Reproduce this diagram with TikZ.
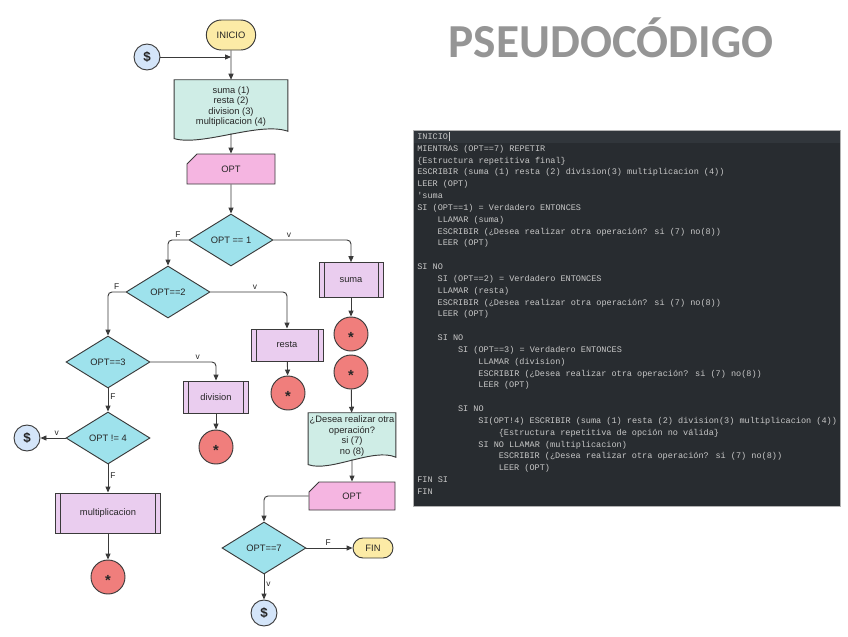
\documentclass[tikz,border=0pt]{standalone}
\usepackage{fontspec}
\setmainfont{Liberation Sans}
\newfontfamily\codefont{Liberation Mono}
\newfontfamily\titlefont{Carlito}
\usetikzlibrary{shapes.geometric,shapes.misc,arrows.meta,calc,backgrounds}

\definecolor{termcol}{HTML}{FCEBA6}
\definecolor{conncol}{HTML}{D4E5F9}
\definecolor{doccol}{HTML}{CFEDE6}
\definecolor{inpcol}{HTML}{F5B5E1}
\definecolor{deccol}{HTML}{9EE2EC}
\definecolor{subcol}{HTML}{EACDEF}
\definecolor{endcol}{HTML}{F07E7C}
\definecolor{linecol}{HTML}{3A3A3A}
\definecolor{panelcol}{HTML}{282C30}
\definecolor{panelhi}{HTML}{31363B}
\definecolor{codecol}{HTML}{C8C8C8}
\definecolor{titlecol}{HTML}{959595}

\newcommand{\stopmk}{\makebox[0pt]{\raisebox{-0.55em}[0pt][0pt]{*}}}
\newcommand{\docshape}[1]{%
  \draw[docbody] (#1.north west) -- (#1.north east) -- ($(#1.south east)+(0,1.5pt)$)
    .. controls ($(#1.south)!0.5!(#1.south east)+(0,9pt)$) and ($(#1.south)!0.5!(#1.south west)+(0,-10pt)$)
    .. ($(#1.south west)+(0,-4pt)$) -- cycle;}

\tikzset{
  every node/.style={font=\fontsize{7}{7.8}\selectfont, text=black!85},
  term/.style={rounded rectangle, draw=linecol, fill=termcol, line width=0.7pt,
    minimum width=39pt, minimum height=22.5pt, inner sep=1pt},
  conn/.style={circle, draw=linecol, fill=conncol, line width=0.7pt,
    minimum size=19.5pt, inner sep=0pt, font=\bfseries\fontsize{10}{10}\selectfont},
  doc/.style={rectangle, align=center, minimum width=85pt, inner sep=1pt},
  docbody/.style={draw=linecol, fill=doccol, line width=0.7pt},
  inp/.style={chamfered rectangle, chamfered rectangle corners=north west,
    chamfered rectangle xsep=4pt, chamfered rectangle ysep=4pt,
    draw=linecol, fill=inpcol, line width=0.7pt,
    minimum width=66pt, minimum height=22.5pt, inner sep=1pt},
  dec/.style={diamond, draw=linecol, fill=deccol, line width=0.7pt,
    minimum width=63pt, minimum height=39pt, inner sep=0pt},
  subr/.style={rectangle, draw=linecol, fill=subcol, line width=0.7pt,
    minimum height=24pt, inner sep=1pt,
    path picture={
      \draw[linecol, line width=0.7pt] ([xshift=3.75pt]path picture bounding box.north west) -- ([xshift=3.75pt]path picture bounding box.south west);
      \draw[linecol, line width=0.7pt] ([xshift=-3.75pt]path picture bounding box.north east) -- ([xshift=-3.75pt]path picture bounding box.south east);}},
  stop/.style={circle, draw=linecol, fill=endcol, line width=0.7pt,
    minimum size=25.5pt, inner sep=0pt, font=\bfseries\fontsize{11}{11}\selectfont},
  flow/.style={draw=linecol, line width=0.7pt, rounded corners=3pt,
    -{Triangle[length=4.5pt,width=3.8pt]}},
  lbl/.style={font=\fontsize{6.3}{7}\selectfont, inner sep=1.5pt},
  code/.style={font=\codefont\fontsize{6.4}{7}\selectfont, text=codecol,
    anchor=base west, inner sep=0pt}
}

\begin{document}
\begin{tikzpicture}[x=0.75pt,y=-0.75pt]
\useasboundingbox (0,0) rectangle (848,636);

% panel with the code
\fill[panelcol] (413,130) rectangle (840,506);
\fill[panelhi] (413,131) rectangle (840,143);
\draw[gray!60, line width=0.5pt] (413,130) rectangle (840,506);

\node[font=\titlefont\bfseries\fontsize{35.5}{36}\selectfont, text=titlecol] (title) at (611,38) {PSEUDOCÓDIGO};

\foreach \row/\ind/\txt in {
    1/0/INICIO,
    2/0/{MIENTRAS (OPT==7) REPETIR},
    3/0/{\{Estructura repetitiva final\}},
    4/0/{ESCRIBIR (suma (1) resta (2) division(3) multiplicacion (4))},
    5/0/{LEER (OPT)},
    6/0/{'suma},
    7/0/{SI (OPT==1) = Verdadero ENTONCES},
    8/4/{LLAMAR (suma)},
    9/4/{ESCRIBIR (¿Desea realizar otra operación? si (7) no(8))},
    10/4/{LEER (OPT)},
    12/0/{SI NO},
    13/4/{SI (OPT==2) = Verdadero ENTONCES},
    14/4/{LLAMAR (resta)},
    15/4/{ESCRIBIR (¿Desea realizar otra operación? si (7) no(8))},
    16/4/{LEER (OPT)},
    18/4/{SI NO},
    19/8/{SI (OPT==3) = Verdadero ENTONCES},
    20/12/{LLAMAR (division)},
    21/12/{ESCRIBIR (¿Desea realizar otra operación? si (7) no(8))},
    22/12/{LEER (OPT)},
    24/8/{SI NO},
    25/12/{SI(OPT!4) ESCRIBIR (suma (1) resta (2) division(3) multiplicacion (4))},
    26/16/{\{Estructura repetitiva de opción no válida\}},
    27/12/{SI NO LLAMAR (multiplicacion)},
    28/16/{ESCRIBIR (¿Desea realizar otra operación? si (7) no(8))},
    29/16/{LEER (OPT)},
    30/0/{FIN SI},
    31/0/FIN}
  \node[code] (l\row) at ({417+\ind*5.1},{139.5+(\row-1)*11.83}) {\txt};
\draw[codecol, line width=0.5pt] ([xshift=0.6pt,yshift=-1pt]l1.base east) -- ([xshift=0.6pt,yshift=5.5pt]l1.base east);

% flowchart
\node[term] (ini) at (231,35) {INICIO};
\node[conn] (s1) at (147,57) {\$};
\node[doc, minimum height=39.75pt] (d1) at (231,106.5) {suma (1)\\resta (2)\\division (3)\\multiplicacion (4)};
\node[inp] (o1) at (231,169) {OPT};
\node[dec] (q1) at (231,240) {OPT == 1};
\node[dec] (q2) at (168,292) {OPT==2};
\node[dec] (q3) at (108,362) {OPT==3};
\node[dec] (q4) at (108,438) {OPT != 4};
\node[conn] (s2) at (27,438) {\$};
\node[subr, minimum width=79pt, minimum height=30pt] (mul) at (108,513) {multiplicacion};
\node[stop] (e4) at (108,577) {\stopmk};
\node[subr, minimum width=49pt] (div) at (216,397) {division};
\node[stop] (e3) at (216,447) {\stopmk};
\node[subr, minimum width=54pt] (res) at (287,345) {resta};
\node[stop] (e2) at (288,393) {\stopmk};
\node[subr, minimum width=48pt, minimum height=26pt] (sum) at (351,280) {suma};
\node[stop] (e1) at (351,334) {\stopmk};
\node[stop] (e5) at (351,372) {\stopmk};
\node[doc, minimum width=64.5pt, minimum height=34.5pt] (d2) at (352,436) {¿Desea realizar otra\\operación?\\si (7)\\no (8)};
\node[inp, minimum width=64.5pt, minimum height=21pt] (o2) at (352,496) {OPT};
\node[dec] (q7) at (264,548) {OPT==7};
\node[term, minimum width=32pt, minimum height=15pt] (fin) at (373,548) {FIN};
\node[conn] (s3) at (264,613) {\$};

\begin{scope}[on background layer]
  \docshape{d1}
  \docshape{d2}
\end{scope}

\coordinate (j1) at (s1 -| ini);
\draw[flow] (s1) -- (j1);
\draw[flow] (ini) -- (d1);
\draw[flow] (d1.south) -- (o1);
\draw[flow] (o1) -- (q1);
\draw[flow] (q1.west) -| node[lbl, above, pos=0.26] {F} (q2.north);
\draw[flow] (q1.east) -| node[lbl, above, pos=0.1] {v} (sum.north);
\draw[flow] (q2.west) -| node[lbl, above, pos=0.25] {F} (q3.north);
\draw[flow] (q2.east) -| node[lbl, above, pos=0.29] {v} (res.north);
\draw[flow] (q3.east) -| node[lbl, above, pos=0.36] {v} (div.north);
\draw[flow] (q3) -- node[lbl, right, pos=0.35] {F} (q4);
\draw[flow] (q4) -- node[lbl, above, pos=0.35] {v} (s2);
\draw[flow] (q4) -- node[lbl, right, pos=0.38] {F} (mul);
\draw[flow] (mul) -- (e4);
\draw[flow] (div) -- (e3);
\draw[flow] (res) -- (e2);
\draw[flow] (sum) -- (e1);
\draw[flow] (e5) -- (d2);
\draw[flow] (d2.south) -- (o2);
\draw[flow] (o2.west) -| (q7.north);
\draw[flow] (q7) -- node[lbl, above, pos=0.47] {F} (fin);
\draw[flow] (q7) -- node[lbl, right, pos=0.4] {v} (s3);
\end{tikzpicture}
\end{document}
